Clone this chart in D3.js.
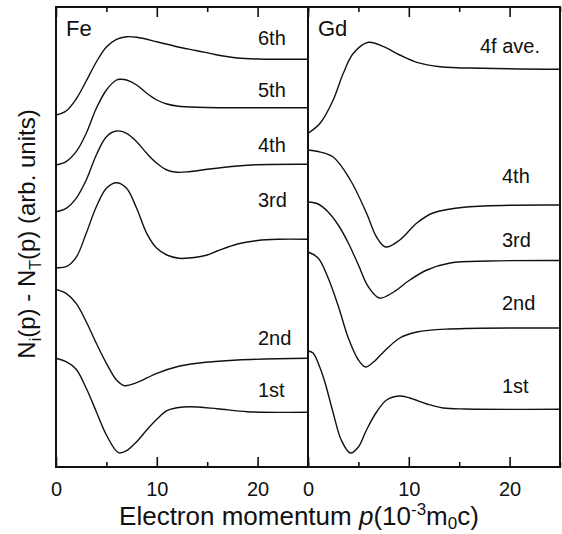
<!DOCTYPE html>
<html>
<head>
<meta charset="utf-8">
<script src="https://cdn.jsdelivr.net/npm/d3@7"></script>
<style>
  body { margin: 0; background: #fff; }
  svg text { font-family: "Liberation Sans", Arial, sans-serif; fill: #111; }
</style>
</head>
<body>
<div id="chart"></div>
<script>
// momentum p (10^-3 m0c) and N_i(p) - N_T(p) in arb. units, each curve already offset
var feCurves = ['1st', '2nd', '3rd', '4th', '5th', '6th'];
var gdCurves = ['1st', '2nd', '3rd', '4th', '4f ave.'];

var fe1st = [[0,10.87],[1,10.53],[2,9.77],[3,7.87],[4,5.53],[5,3.2],[6.2,1.43],[7,1.63],[8,2.53],[9,3.7],[10,4.77],[11,5.63],[12,5.93],[13.3,6.03],[16,5.83],[19,5.53],[25,5.47]];
var fe2nd = [[0,17.77],[1,17.37],[2,16.37],[3,14.53],[4,12.37],[5,10.37],[6,8.7],[6.8,8.13],[8,8.43],[10,9.37],[12,10.03],[14,10.37],[18,10.7],[25,10.87]];
var fe3rd = [[0,19.93],[1,20.03],[2,20.97],[3,23.37],[4,26.03],[5,27.87],[6,28.43],[7,27.87],[8,25.87],[9,23.37],[10,21.87],[11,21.2],[12.2,20.87],[13.9,20.97],[15,21.2],[16,21.6],[18,22.3],[20,22.65],[22,22.77],[25,22.77]];
var fe4th = [[0,25.53],[1,25.87],[2,26.87],[3,28.7],[4,31.2],[5,33.03],[6,33.6],[7,33.37],[8,32.53],[9,31.37],[10,30.37],[11,29.7],[12,29.47],[13.2,29.53],[15,29.77],[18,30.1],[20,30.23],[25,30.27]];
var fe5th = [[0,30.2],[1,30.53],[2,31.53],[3,33.37],[4,35.87],[5,37.7],[6,38.7],[6.4,38.77],[7,38.7],[8,38.2],[9,37.37],[10,36.7],[11,36.3],[12,36.1],[14,35.97],[25,35.93]];
var fe6th = [[0,35.2],[1,35.6],[2,36.8],[3,38.6],[4,40.5],[5,42.0],[6,42.77],[7,43.03],[8,42.97],[10,42.53],[12,42.03],[14,41.63],[16,41.2],[18,40.9],[20,40.8],[25,40.77]];

var gd1st = [[0,11.6],[0.5,11.4],[1.2,9.9],[1.7,8.4],[2.5,5.4],[3.3,2.7],[4.2,1.4],[5,2.0],[5.8,3.7],[6.8,5.5],[7.8,6.7],[9,7.1],[10.1,6.9],[11.8,6.3],[13.4,5.9],[15.7,5.8],[25,5.77]];
var gd2nd = [[0,21.5],[1,20.9],[2,18.9],[3,16.1],[4,12.9],[5,10.7],[5.7,10.0],[6.5,10.5],[7.4,11.4],[9.1,12.9],[10.8,13.5],[14,13.8],[25,13.9]];
var gd3rd = [[0,26.5],[1,26.3],[2,25.5],[3,24.2],[4,22.4],[5,20.2],[6,18.0],[7.1,16.9],[8.5,17.5],[10.1,18.7],[11.8,19.7],[14.1,20.4],[18,20.6],[25,20.65]];
var gd4th = [[0,31.7],[1,31.55],[2.5,31.0],[4.2,28.7],[5.8,25.4],[6.8,23.0],[7.7,22.0],[9.1,22.7],[10.8,24.4],[12.4,25.4],[15.7,26.0],[25,26.2]];
var gd4f = [[0,33.37],[1.2,34.37],[2.5,36.7],[3.5,39.37],[4.5,41.37],[6,42.47],[7.5,42.03],[9.1,41.2],[10.8,40.47],[13.1,40.03],[17.4,39.87],[25,39.77]];

var majorTicks = [0, 10, 20];
var minorTicks = [5, 15, 25];

var width = 562, height = 534;
var yTop = 7, yBottom = 467;

var svg = d3.select('#chart')
    .append('svg')
    .attr('width', width)
    .attr('height', height);

var y = d3.scaleLinear().domain([0, 46]).range([yBottom, yTop]);

var panels = [
    { name: 'Fe', x0: 56, x1: 308, series: [fe1st, fe2nd, fe3rd, fe4th, fe5th, fe6th], labels: feCurves,
      labelX: 258, labelY: [397, 345, 207, 152, 97, 45] },
    { name: 'Gd', x0: 308, x1: 560, series: [gd1st, gd2nd, gd3rd, gd4th, gd4f], labels: gdCurves,
      labelX: 502, labelY: [393, 310, 247, 183, 53] }
];

panels.forEach(function(pn) {
    var x = d3.scaleLinear().domain([0, 25]).range([pn.x0, pn.x1]);
    var g = svg.append('g');

    var line = d3.line()
        .x(function(d) { return x(d[0]); })
        .y(function(d) { return y(d[1]); })
        .curve(d3.curveCatmullRom.alpha(0.5));

    g.selectAll('path.curve')
        .data(pn.series)
        .enter()
        .append('path')
        .attr('class', 'curve')
        .attr('d', line)
        .attr('fill', 'none')
        .attr('stroke', '#111')
        .attr('stroke-width', 1.4);

    // ticks point inward, top and bottom
    var bMajor = d3.axisBottom(x).tickValues(majorTicks).tickSize(-10).tickPadding(15);
    var bMinor = d3.axisBottom(x).tickValues(minorTicks).tickSize(-5).tickFormat('');
    var tMajor = d3.axisTop(x).tickValues(majorTicks).tickSize(-10).tickFormat('');
    var tMinor = d3.axisTop(x).tickValues(minorTicks).tickSize(-5).tickFormat('');

    [[bMajor, yBottom], [bMinor, yBottom], [tMajor, yTop], [tMinor, yTop]].forEach(function(a) {
        var ax = g.append('g').attr('transform', 'translate(0,' + a[1] + ')').call(a[0]);
        ax.select('.domain').remove();
        ax.selectAll('line').attr('stroke', '#111').attr('stroke-width', 1.6);
        ax.selectAll('text').attr('font-size', 20).attr('font-family', '"Liberation Sans", Arial, sans-serif').attr('fill', '#111');
    });

    g.append('rect')
        .attr('x', pn.x0).attr('y', yTop)
        .attr('width', pn.x1 - pn.x0).attr('height', yBottom - yTop)
        .attr('fill', 'none').attr('stroke', '#111').attr('stroke-width', 2);

    g.append('text')
        .attr('x', pn.x0 + 10).attr('y', 36)
        .attr('font-size', 22)
        .text(pn.name);

    g.selectAll('text.lab')
        .data(pn.labels)
        .enter()
        .append('text')
        .attr('class', 'lab')
        .attr('x', function(d) { return d === '4f ave.' ? 480 : pn.labelX; })
        .attr('y', function(d, i) { return pn.labelY[i]; })
        .attr('font-size', 20)
        .text(function(d) { return d; });
});

// x axis title
var xt = svg.append('text')
    .attr('x', 299).attr('y', 525)
    .attr('text-anchor', 'middle')
    .attr('font-size', 26);
xt.append('tspan').text('Electron momentum ');
xt.append('tspan').attr('font-style', 'italic').text('p');
xt.append('tspan').text('(10');
xt.append('tspan').attr('font-size', 17).attr('dy', -10).text('-3');
xt.append('tspan').attr('dy', 10).text('m');
xt.append('tspan').attr('font-size', 17).attr('dy', 4).text('0');
xt.append('tspan').attr('dy', -4).text('c)');

// y axis title
var yt = svg.append('text')
    .attr('transform', 'translate(35,234) rotate(-90)')
    .attr('text-anchor', 'middle')
    .attr('font-size', 24);
yt.append('tspan').text('N');
yt.append('tspan').attr('font-size', 16).attr('dy', 6).text('i');
yt.append('tspan').attr('dy', -6).text('(p) - N');
yt.append('tspan').attr('font-size', 16).attr('dy', 6).text('T');
yt.append('tspan').attr('dy', -6).text('(p) (arb. units)');
</script>
</body>
</html>
